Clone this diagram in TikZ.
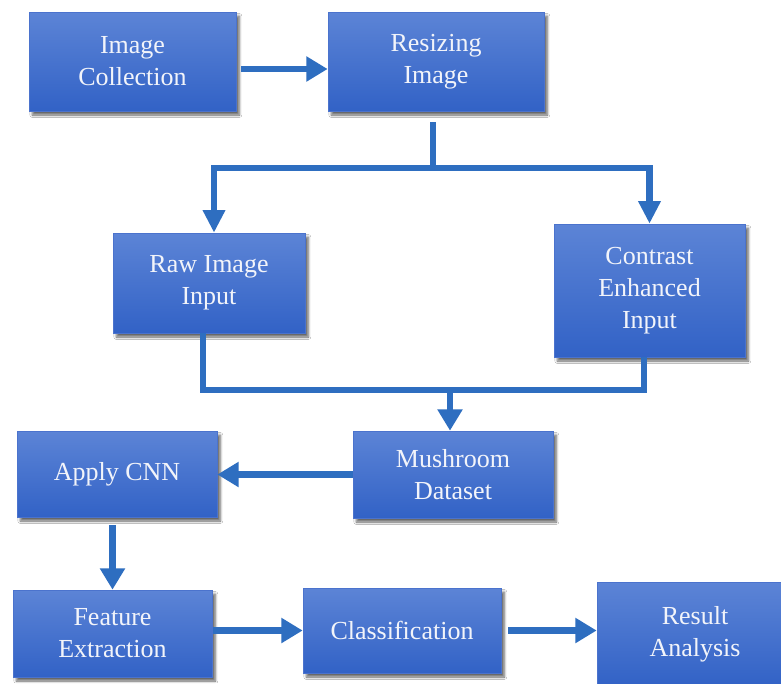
\documentclass[tikz,border=0pt]{standalone}
\usepackage{fontspec}
\setmainfont{Liberation Serif}
\usetikzlibrary{arrows.meta,shadows.blur,calc}
\definecolor{boxtop}{RGB}{92,132,214}
\definecolor{boxbot}{RGB}{50,98,198}
\definecolor{boxedge}{RGB}{75,115,205}
\definecolor{linkblue}{RGB}{46,110,192}
\definecolor{txt}{RGB}{242,244,250}
\begin{document}
\begin{tikzpicture}[x=0.75pt,y=-0.75pt,
  box/.style={rectangle, inner sep=0pt, align=center,
    top color=boxtop, bottom color=boxbot, draw=boxedge, line width=0.5pt,
    text=txt, font=\fontsize{19.5}{24}\selectfont,
    blur shadow={shadow xshift=2.5pt, shadow yshift=-3pt, shadow blur steps=6, shadow opacity=60}},
  link/.style={draw=linkblue, line width=5pt, line join=miter},
  arr/.style={link, -{Triangle[length=16pt,width=18pt]}},
  darr/.style={link, {Triangle[length=17pt,width=16pt]}-{Triangle[length=17pt,width=16pt]}}
]
\clip (0,0) rectangle (781,683);
\fill[white] (0,0) rectangle (781,683);

\node[box, minimum width=155.25pt, minimum height=74.25pt] (ic)  at (132.5,61.5) {Image\\Collection};
\node[box, minimum width=162pt,    minimum height=74.25pt] (rs)  at (436,61.5)   {Resizing\\Image};
\node[box, minimum width=144pt,    minimum height=75pt]    (raw) at (209,283)    {Raw Image\\Input};
\node[box, minimum width=143.25pt, minimum height=99.75pt] (ce)  at (649.5,290.5) {Contrast\\Enhanced\\Input};
\node[box, minimum width=150pt,    minimum height=65.25pt] (ms)  at (453,474.5)  {Mushroom\\Dataset};
\node[box, minimum width=150pt,    minimum height=64.5pt]  (ac)  at (117,474)    {Apply CNN};
\node[box, minimum width=149.25pt, minimum height=65.25pt] (fe)  at (112.5,633.5) {Feature\\Extraction};
\node[box, minimum width=148.5pt,  minimum height=63.75pt] (cl)  at (402,630.5)  {Classification};
\node[box, minimum width=147pt,    minimum height=78pt]    (res) at (695,634)    {Result\\Analysis};

\coordinate (sp) at (433,168);
\coordinate (mg) at (450,390);

% Image Collection -> Resizing Image
\draw[arr] ([shift={(5,7.5)}]ic.east) -- ([shift={(0,7.5)}]rs.west);
% split
\draw[link] ([shift={(0,11)}]rs.south -| sp) -- (sp);
\draw[darr] ([shift={(5,0)}]raw.north) |- (sp) -| (ce.north);
% merge
\draw[link] ([shift={(-6,0)}]raw.south) |- (mg) -| ([shift={(-5.5,0)}]ce.south);
\draw[arr] (mg) -- (ms.north -| mg);
% Mushroom -> Apply CNN
\draw[arr] (ms.west) -- (ms.west -| ac.east);
% Apply CNN -> Feature Extraction
\draw[arr] ([shift={(0,8)}]ac.south -| fe.north) -- (fe.north);
% Feature -> Classification
\draw[arr] ([shift={(1,0)}]fe.east |- cl.west) -- (cl.west);
% Classification -> Result
\draw[arr] ([shift={(7,0)}]cl.east) -- (res.west |- cl.east);
\end{tikzpicture}
\end{document}
